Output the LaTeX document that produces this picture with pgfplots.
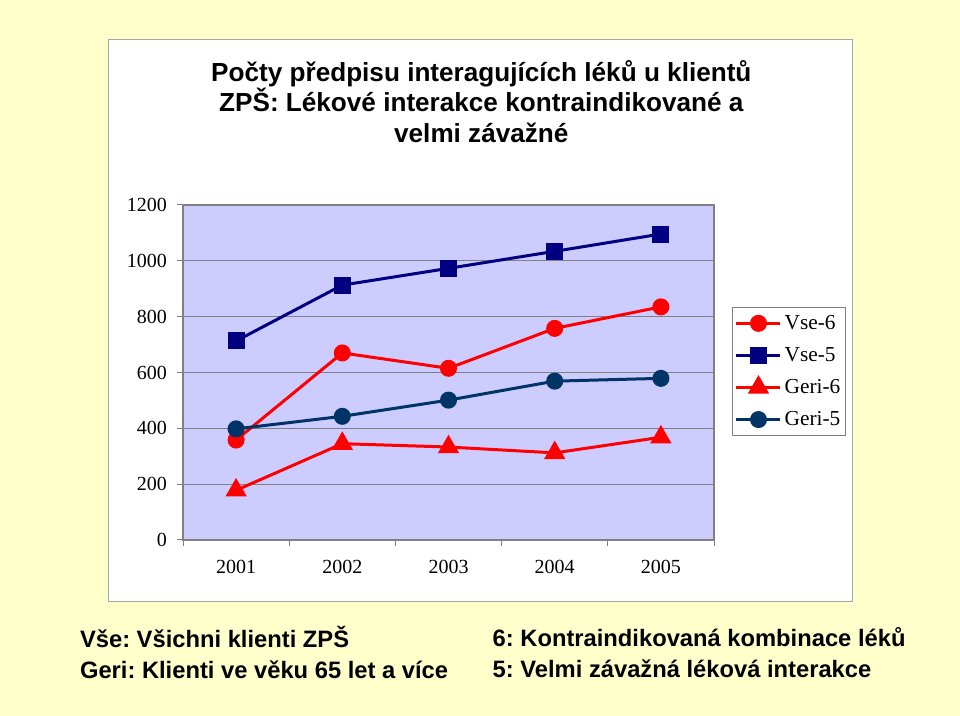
\documentclass[border=0pt]{standalone}
\usepackage{fontspec}
\usepackage{pgfplots}
\pgfplotsset{compat=1.18}
\setmainfont{Liberation Serif}
\newfontfamily\arialfont{Liberation Sans}
\definecolor{bgyellow}{RGB}{255,255,204}
\definecolor{plotbg}{RGB}{204,204,255}
\definecolor{navyA}{RGB}{0,0,128}
\definecolor{navyB}{RGB}{0,51,102}
\definecolor{gridgray}{RGB}{128,128,128}
\frenchspacing
\begin{document}
\begin{tikzpicture}
\fill[bgyellow] (0pt,0pt) rectangle (720pt,537pt);
\draw[gray!70, line width=0.75pt, fill=white] (81pt,85.5pt) rectangle (639pt,507pt);
\node[align=center, font={\arialfont\bfseries\fontsize{19.6}{22.9}\selectfont}] at (361pt,461pt)
  {Počty předpisu interagujících léků u klientů\\ZPŠ: Lékové interakce kontraindikované a\\velmi závažné};
\node[align=left, anchor=west, font={\arialfont\bfseries\fontsize{17.8}{23.25}\selectfont}] at (56.5pt,47.6pt)
  {Vše: Všichni klienti ZPŠ\\Geri: Klienti ve věku 65 let a více};
\node[align=left, anchor=west, font={\arialfont\bfseries\fontsize{17.8}{23.25}\selectfont}] at (366pt,47.6pt)
  {6: Kontraindikovaná kombinace léků\\5: Velmi závažná léková interakce};
\begin{axis}[
  at={(137.25pt,132pt)}, anchor=south west,
  scale only axis, width=398.25pt, height=251.25pt,
  xmin=2000.5, xmax=2005.5, ymin=0, ymax=1200,
  axis background/.style={fill=plotbg},
  axis line style={gridgray, line width=0.9pt},
  xtick={2001,2002,2003,2004,2005},
  xticklabels={2001,2002,2003,2004,2005},
  minor xtick={2000.5,2001.5,2002.5,2003.5,2004.5,2005.5},
  ytick={0,200,400,600,800,1000,1200},
  ymajorgrids, grid style={gridgray, line width=0.75pt},
  tick align=outside,
  major tick length=4.5pt, minor tick length=4.5pt,
  tick style={gridgray, line width=0.75pt},
  xtick style={draw=none},
  minor x tick style={draw=gridgray},
  xtick pos=bottom, ytick pos=left,
  /pgf/number format/assume math mode=true,
  /pgf/number format/set thousands separator={},
  tick label style={font=\fontsize{15}{18}\selectfont},
  xticklabel style={yshift=-7pt},
  yticklabel style={xshift=-4pt},
  legend style={at={(1.034,0.6955)}, anchor=north west, draw=gridgray, fill=white,
    font=\fontsize{16}{18}\selectfont, row sep=8pt, inner xsep=2pt, inner ysep=4pt,
    legend cell align=left},
  legend image code/.code={\draw[#1, mark repeat=2, mark phase=2] plot coordinates {(0pt,0pt) (16.5pt,0pt) (33pt,0pt)};},
  every axis plot/.append style={line width=2.25pt},
]
\addplot[red, mark=*, mark size=5.25pt, mark options={solid, fill=red}] coordinates {(2001,358) (2002,670) (2003,615) (2004,758) (2005,835)};
\addlegendentry{Vse-6}
\addplot[navyA, mark=square*, mark size=5.25pt, mark options={solid, fill=navyA}] coordinates {(2001,713) (2002,913) (2003,973) (2004,1034) (2005,1096)};
\addlegendentry{Vse-5}
\addplot[red, mark=triangle*, mark size=7pt, mark options={solid, fill=red}] coordinates {(2001,178) (2002,345) (2003,333) (2004,312) (2005,368)};
\addlegendentry{Geri-6}
\addplot[navyB, mark=*, mark size=5.25pt, mark options={solid, fill=navyB}] coordinates {(2001,398) (2002,443) (2003,501) (2004,569) (2005,579)};
\addlegendentry{Geri-5}
\end{axis}
\end{tikzpicture}
\end{document}
